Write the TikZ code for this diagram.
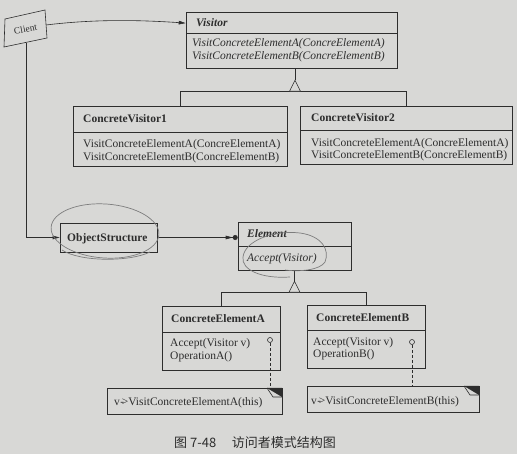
\documentclass[tikz,border=0pt]{standalone}
\usepackage{fontspec}
\setmainfont{Liberation Serif}
\newfontfamily\cjk{Noto Sans CJK SC}
\usetikzlibrary{arrows.meta,fit,calc}
\definecolor{paper}{RGB}{216,216,214}
\definecolor{ink}{RGB}{45,45,45}
\definecolor{pencil}{RGB}{125,125,125}
\tikzset{
  line/.style={draw=ink, line width=0.6pt},
  boxfit/.style={draw=ink, line width=0.6pt, inner sep=0pt},
  ttl/.style={anchor=base west, font=\fontsize{11.5}{12.5}\selectfont\bfseries, text=ink, inner sep=0pt},
  ttli/.style={anchor=base west, font=\fontsize{11.5}{12.5}\selectfont\bfseries\itshape, text=ink, inner sep=0pt},
  bdy/.style={anchor=base west, font=\fontsize{11.5}{12.5}\selectfont, text=ink, inner sep=0pt},
  bdyi/.style={anchor=base west, font=\fontsize{11.5}{12.5}\selectfont\itshape, text=ink, inner sep=0pt},
  tip/.style={-{Triangle[length=7pt,width=3.6pt]}},
  dottip/.style={-{Triangle[length=7pt,width=3.6pt]Circle[length=5pt]}},
  pen/.style={draw=pencil, line width=0.7pt},
  anchorcircle/.style={circle, draw=ink, line width=0.6pt, fill=paper, inner sep=0pt, minimum size=5pt},
  notedash/.style={draw=ink, line width=0.6pt, dash pattern=on 3pt off 2pt},
}
\newcommand\umlbox[6]{%
  \coordinate (#1-nw) at (#2,#3);
  \coordinate (#1-se) at (#4,#6);
  \node[boxfit, fit=(#1-nw)(#1-se)] (#1) {};
  \draw[line] (#2,#5) -- (#4,#5);
}
\newcommand\notebox[5]{%
  \coordinate (#1-nw) at (#2,#3);
  \coordinate (#1-se) at (#4,#5);
  \node[boxfit, fit=(#1-nw)(#1-se)] (#1) {};
  \fill[ink] (#4-15,#3) -- (#4,#3) -- (#4,#3+9) -- cycle;
  \draw[line] (#4-15,#3) -- (#4-9,#3+9) -- (#4,#3+9);
}
\begin{document}
\begin{tikzpicture}[x=1pt,y=-1pt]
\useasboundingbox (0,0) rectangle (517,454);
\fill[paper] (0,0) rectangle (517,454);

% Client
\coordinate (cl1) at (5,19);
\coordinate (cl2) at (45,10);
\coordinate (cl3) at (47,38);
\coordinate (cl4) at (4,47);
\draw[line] (cl1) -- (cl2) -- (cl3) -- (cl4) -- cycle;
\node[font=\fontsize{9.5}{10}\selectfont, text=ink, rotate=11, inner sep=0pt] (client) at (25.5,29) {Client};
\coordinate (clientR) at (46,25);
\coordinate (clientB) at (26,43);

% Visitor
\umlbox{visitor}{186}{12}{397}{33}{68}
\node[ttli] (vt) at (196,27) {Visitor};
\node[bdyi] (vb1) at (192,47) {VisitConcreteElementA(ConcreElementA)};
\node[bdyi] (vb2) at (192,59.5) {VisitConcreteElementB(ConcreElementB)};

% ConcreteVisitor1
\umlbox{cv1}{73}{106}{287}{132}{166}
\node[ttl] (cv1t) at (83,123) {ConcreteVisitor1};
\node[bdy] (cv1b1) at (83,148) {VisitConcreteElementA(ConcreElementA)};
\node[bdy] (cv1b2) at (83,160.5) {VisitConcreteElementB(ConcreElementB)};

% ConcreteVisitor2
\umlbox{cv2}{300}{106}{512}{130}{164}
\node[ttl] (cv2t) at (311,122) {ConcreteVisitor2};
\node[bdy] (cv2b1) at (311,146.5) {VisitConcreteElementA(ConcreElementA)};
\node[bdy] (cv2b2) at (311,159) {VisitConcreteElementB(ConcreElementB)};

% ObjectStructure
\coordinate (objs-nw) at (60,223);
\coordinate (objs-se) at (157,252);
\node[boxfit, fit=(objs-nw)(objs-se)] (objs) {};
\node[ttl] (objst) at (67,241.5) {ObjectStructure};

% Element
\umlbox{element}{238}{222}{351}{246}{270}
\node[ttli] (elt) at (247,238) {Element};
\node[bdyi] (elb) at (247,262) {Accept(Visitor)};

% ConcreteElementA
\umlbox{cea}{162}{306}{280}{332}{370}
\node[ttl] (ceat) at (171,323) {ConcreteElementA};
\node[bdy] (ceab1) at (170,347) {Accept(Visitor v)};
\node[bdy] (ceab2) at (170,359.5) {OperationA()};

% ConcreteElementB
\umlbox{ceb}{307}{305}{425}{330}{368}
\node[ttl] (cebt) at (316,322) {ConcreteElementB};
\node[bdy] (cebb1) at (313,345.5) {Accept(Visitor v)};
\node[bdy] (cebb2) at (313,358) {OperationB()};

% Notes
\notebox{na}{107}{388}{282}{414}
\node[bdy] (nat) at (114,406) {v\kern0.3pt-\kern-2.2pt>VisitConcreteElementA(this)};
\notebox{nb}{307}{386}{479}{412}
\node[bdy] (nbt) at (311,404) {v\kern0.3pt-\kern-2.2pt>VisitConcreteElementB(this)};

\node[anchorcircle] (ca) at (270,340) {};
\node[anchorcircle] (cb) at (412,342) {};
\draw[notedash] (ca.south) -- (ca.south |- na.north);
\draw[notedash] (cb.south) -- (cb.south |- nb.north);

% Client connectors
\draw[line, tip] (clientR) .. controls (95,19) and (140,20) .. (visitor.west |- vt.west);
\draw[line, tip] (clientB) |- (objs.west);
\draw[line, dottip] (objs.east) -- (objs.east -| element.west);

% Visitor generalization
\draw[line] ([xshift=3.5pt]visitor.south) -- ++(0,12) coordinate (va);
\coordinate (vbar) at ($(va)+(0,11)$);
\draw[line] (cv1.north) -- (cv1.north |- vbar) -- (cv2.north |- vbar) -- (cv2.north);
\draw[line, fill=paper] (va) -- ($(vbar)+(-5.5,0)$) -- ($(vbar)+(5.5,0)$) -- cycle;

% Element generalization
\draw[line] (element.south) -- ++(0,11) coordinate (ea);
\coordinate (ebar) at ($(ea)+(0,11)$);
\draw[line] (cea.north) -- (cea.north |- ebar) -- (ceb.north |- ebar) -- (ceb.north);
\draw[line, fill=paper] (ea) -- ($(ebar)+(-5.5,0)$) -- ($(ebar)+(5.5,0)$) -- cycle;

% pencil marks
\draw[pen, rotate around={-4:(105,231)}] (105,231) ellipse [x radius=54, y radius=27];
\draw[pen] (62,250) .. controls (80,262) and (130,262) .. (150,252);
\draw[pen] (290,277) .. controls (262,279) and (241,270) .. (243,257)
  .. controls (245,240) and (275,230) .. (300,233)
  .. controls (322,236) and (330,250) .. (325,262)
  .. controls (320,270) and (300,272) .. (285,270);

% caption
\node[font=\cjk\fontsize{13}{14}\selectfont, text=ink] (cap) at (255,443) {图 7-48\hspace{1.2em}访问者模式结构图};
\end{tikzpicture}
\end{document}
